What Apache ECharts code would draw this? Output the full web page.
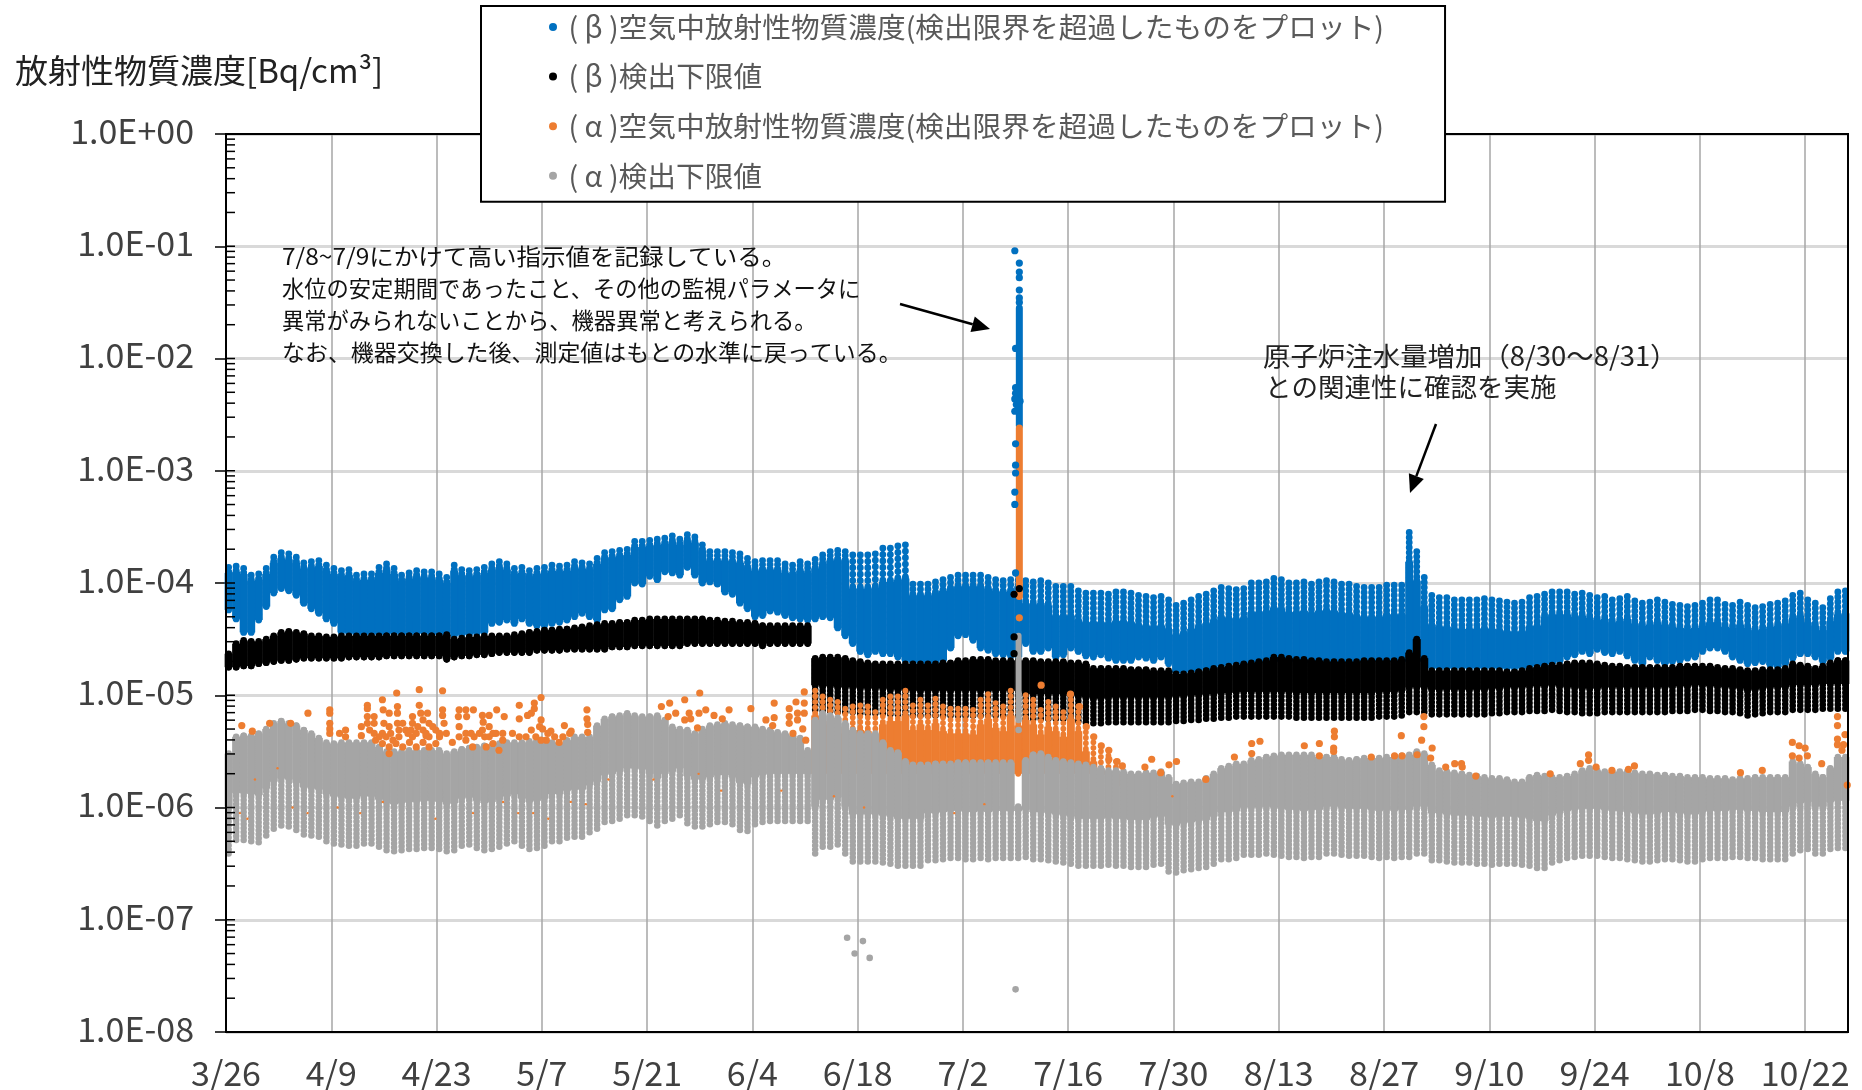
<!DOCTYPE html>
<html><head><meta charset="utf-8">
<style>html,body{margin:0;padding:0;background:#fff}#c{width:1862px;height:1090px}</style>
<script src="https://cdn.jsdelivr.net/npm/echarts@6/dist/echarts.min.js"></script>
</head><body><div id="c"></div>
<script>
// Values are log10(Bq/cm3); one range per day, starting at 3/26.
const xTickLabels=['3/26','4/9','4/23','5/7','5/21','6/4','6/18','7/2','7/16','7/30','8/13','8/27','9/10','9/24','10/8','10/22'];
const legendNames=[' ( β )空気中放射性物質濃度(検出限界を超過したものをプロット)',' ( β )検出下限値',' ( α )空気中放射性物質濃度(検出限界を超過したものをプロット)',' ( α )検出下限値'];

const blueHigh=[
-3.86,-3.85,-3.87,-3.93,-3.92,-3.87,-3.77,-3.73,-3.74,-3.77,
-3.82,-3.81,-3.80,-3.84,-3.87,-3.89,-3.88,-3.93,-3.92,-3.92,
-3.86,-3.83,-3.87,-3.93,-3.91,-3.89,-3.90,-3.90,-3.92,-3.95,
-3.84,-3.88,-3.89,-3.88,-3.86,-3.83,-3.81,-3.83,-3.87,-3.86,
-3.89,-3.87,-3.86,-3.84,-3.85,-3.84,-3.81,-3.82,-3.83,-3.78,
-3.73,-3.72,-3.71,-3.70,-3.63,-3.63,-3.62,-3.61,-3.60,-3.58,
-3.61,-3.57,-3.59,-3.66,-3.72,-3.72,-3.72,-3.73,-3.74,-3.78,
-3.81,-3.80,-3.80,-3.80,-3.83,-3.84,-3.81,-3.83,-3.79,-3.75,
-3.72,-3.71,-3.72,-3.75,-3.75,-3.75,-3.74,-3.69,-3.69,-3.67,
-3.66,-4.01,-4.01,-4.01,-3.99,-3.97,-3.95,-3.93,-3.93,-3.93,
-3.93,-3.95,-3.97,-3.98,-3.97,-3.93,-3.98,-3.99,-3.98,-4.00,
-4.03,-4.03,-4.03,-4.07,-4.09,-4.09,-4.09,-4.10,-4.08,-4.08,
-4.09,-4.11,-4.12,-4.13,-4.12,-4.15,-4.20,-4.18,-4.15,-4.12,
-4.10,-4.07,-4.04,-4.05,-4.06,-4.05,-4.00,-4.00,-3.99,-3.96,
-3.97,-4.00,-4.00,-3.99,-4.01,-3.99,-3.98,-3.99,-4.01,-4.01,
-4.03,-4.04,-4.04,-4.04,-4.02,-4.02,-4.02,-3.55,-3.72,-3.95,
-4.11,-4.13,-4.13,-4.15,-4.15,-4.15,-4.15,-4.14,-4.15,-4.16,
-4.17,-4.18,-4.17,-4.13,-4.12,-4.10,-4.08,-4.08,-4.08,-4.10,
-4.09,-4.11,-4.13,-4.12,-4.15,-4.14,-4.12,-4.16,-4.18,-4.17,
-4.15,-4.17,-4.19,-4.20,-4.21,-4.20,-4.18,-4.15,-4.15,-4.19,
-4.20,-4.17,-4.20,-4.22,-4.21,-4.19,-4.18,-4.16,-4.11,-4.09,
-4.15,-4.18,-4.22,-4.14,-4.08,-4.07];
const blueLow=[
-4.24,-4.32,-4.44,-4.44,-4.33,-4.21,-4.09,-4.05,-4.07,-4.11,
-4.18,-4.23,-4.27,-4.32,-4.36,-4.44,-4.45,-4.46,-4.46,-4.45,
-4.46,-4.46,-4.45,-4.46,-4.46,-4.45,-4.45,-4.46,-4.46,-4.45,
-4.47,-4.46,-4.46,-4.45,-4.44,-4.36,-4.35,-4.33,-4.36,-4.32,
-4.36,-4.38,-4.38,-4.36,-4.35,-4.33,-4.30,-4.27,-4.30,-4.33,
-4.24,-4.23,-4.15,-4.12,-4.00,-4.01,-3.94,-3.97,-3.90,-3.91,
-3.93,-3.86,-3.93,-4.00,-3.99,-4.01,-4.08,-4.10,-4.18,-4.23,
-4.30,-4.29,-4.25,-4.26,-4.29,-4.31,-4.32,-4.33,-4.32,-4.30,
-4.31,-4.40,-4.47,-4.54,-4.61,-4.64,-4.61,-4.63,-4.63,-4.66,
-4.69,-4.71,-4.72,-4.73,-4.73,-4.69,-4.58,-4.47,-4.46,-4.51,
-4.58,-4.60,-4.63,-4.64,-4.65,-4.66,-4.54,-4.61,-4.61,-4.58,
-4.66,-4.64,-4.58,-4.61,-4.65,-4.66,-4.64,-4.67,-4.69,-4.69,
-4.69,-4.66,-4.67,-4.69,-4.66,-4.72,-4.80,-4.80,-4.79,-4.78,
-4.77,-4.76,-4.74,-4.73,-4.72,-4.72,-4.71,-4.71,-4.70,-4.70,
-4.70,-4.70,-4.70,-4.71,-4.71,-4.71,-4.71,-4.71,-4.71,-4.71,
-4.71,-4.70,-4.70,-4.70,-4.70,-4.70,-4.70,-4.70,-4.70,-4.70,
-4.76,-4.76,-4.76,-4.76,-4.76,-4.76,-4.76,-4.76,-4.76,-4.76,
-4.76,-4.76,-4.76,-4.75,-4.74,-4.73,-4.72,-4.70,-4.66,-4.64,
-4.61,-4.63,-4.59,-4.62,-4.63,-4.61,-4.65,-4.69,-4.72,-4.66,
-4.69,-4.72,-4.70,-4.69,-4.67,-4.66,-4.61,-4.58,-4.58,-4.61,
-4.66,-4.69,-4.72,-4.71,-4.70,-4.73,-4.75,-4.72,-4.67,-4.63,
-4.63,-4.66,-4.70,-4.67,-4.61,-4.61];

const blackHigh=[
-4.63,-4.54,-4.51,-4.52,-4.52,-4.50,-4.47,-4.44,-4.43,-4.44,
-4.45,-4.47,-4.47,-4.48,-4.48,-4.47,-4.47,-4.47,-4.47,-4.47,
-4.47,-4.47,-4.47,-4.47,-4.47,-4.47,-4.47,-4.47,-4.47,-4.46,
-4.50,-4.49,-4.48,-4.48,-4.47,-4.47,-4.47,-4.47,-4.46,-4.45,
-4.44,-4.43,-4.42,-4.42,-4.41,-4.41,-4.40,-4.39,-4.38,-4.37,
-4.36,-4.36,-4.35,-4.35,-4.33,-4.33,-4.32,-4.32,-4.32,-4.32,
-4.32,-4.32,-4.32,-4.32,-4.33,-4.33,-4.34,-4.34,-4.35,-4.35,
-4.36,-4.38,-4.38,-4.38,-4.38,-4.38,-4.38,-4.38,-4.67,-4.66,
-4.66,-4.66,-4.67,-4.69,-4.70,-4.71,-4.72,-4.72,-4.72,-4.72,
-4.72,-4.72,-4.72,-4.72,-4.72,-4.71,-4.71,-4.69,-4.69,-4.68,
-4.68,-4.68,-4.69,-4.69,-4.69,-4.69,-4.69,-4.69,-4.70,-4.70,
-4.70,-4.70,-4.71,-4.71,-4.72,-4.76,-4.76,-4.76,-4.76,-4.76,
-4.77,-4.77,-4.77,-4.78,-4.78,-4.78,-4.81,-4.81,-4.80,-4.79,
-4.78,-4.76,-4.75,-4.74,-4.73,-4.72,-4.71,-4.70,-4.69,-4.66,
-4.66,-4.67,-4.68,-4.68,-4.69,-4.69,-4.70,-4.70,-4.70,-4.70,
-4.70,-4.69,-4.69,-4.69,-4.69,-4.69,-4.68,-4.62,-4.50,-4.67,
-4.78,-4.78,-4.78,-4.78,-4.78,-4.78,-4.78,-4.78,-4.78,-4.78,
-4.79,-4.79,-4.78,-4.76,-4.75,-4.74,-4.73,-4.73,-4.72,-4.71,
-4.71,-4.71,-4.72,-4.73,-4.74,-4.74,-4.75,-4.75,-4.75,-4.75,
-4.75,-4.75,-4.75,-4.74,-4.74,-4.74,-4.74,-4.74,-4.75,-4.76,
-4.76,-4.77,-4.78,-4.78,-4.77,-4.77,-4.77,-4.76,-4.72,-4.73,
-4.74,-4.76,-4.74,-4.71,-4.69,-4.69];
const blackLow=[
-4.75,-4.75,-4.74,-4.74,-4.72,-4.71,-4.70,-4.69,-4.69,-4.68,
-4.67,-4.67,-4.67,-4.67,-4.67,-4.67,-4.66,-4.66,-4.66,-4.66,
-4.66,-4.65,-4.65,-4.65,-4.65,-4.65,-4.65,-4.65,-4.65,-4.68,
-4.66,-4.65,-4.65,-4.64,-4.64,-4.63,-4.62,-4.62,-4.62,-4.62,
-4.62,-4.60,-4.60,-4.60,-4.60,-4.59,-4.59,-4.59,-4.59,-4.59,
-4.59,-4.57,-4.57,-4.57,-4.56,-4.56,-4.56,-4.56,-4.56,-4.56,
-4.56,-4.54,-4.54,-4.54,-4.54,-4.54,-4.54,-4.54,-4.54,-4.54,
-4.54,-4.56,-4.54,-4.54,-4.54,-4.54,-4.54,-4.54,-5.13,-5.14,
-5.14,-5.15,-5.15,-5.15,-5.16,-5.16,-5.16,-5.16,-5.17,-5.17,
-5.18,-5.18,-5.18,-5.18,-5.18,-5.18,-5.18,-5.18,-5.18,-5.18,
-5.18,-5.18,-5.18,-5.18,-5.18,-5.18,-5.21,-5.21,-5.21,-5.21,
-5.21,-5.21,-5.22,-5.23,-5.24,-5.25,-5.25,-5.24,-5.24,-5.24,
-5.24,-5.24,-5.24,-5.24,-5.24,-5.24,-5.23,-5.23,-5.22,-5.22,
-5.21,-5.21,-5.20,-5.20,-5.19,-5.19,-5.19,-5.19,-5.19,-5.19,
-5.19,-5.19,-5.20,-5.20,-5.20,-5.20,-5.20,-5.20,-5.20,-5.20,
-5.20,-5.20,-5.20,-5.19,-5.19,-5.19,-5.18,-5.15,-5.15,-5.15,
-5.17,-5.17,-5.17,-5.17,-5.17,-5.17,-5.17,-5.17,-5.16,-5.16,
-5.15,-5.15,-5.15,-5.14,-5.14,-5.14,-5.13,-5.14,-5.15,-5.15,
-5.16,-5.16,-5.16,-5.15,-5.15,-5.15,-5.15,-5.15,-5.15,-5.15,
-5.15,-5.15,-5.14,-5.14,-5.14,-5.13,-5.13,-5.14,-5.14,-5.15,
-5.15,-5.16,-5.18,-5.17,-5.16,-5.15,-5.15,-5.15,-5.13,-5.13,
-5.13,-5.13,-5.12,-5.12,-5.12,-5.12];

const greyHigh=[
-5.52,-5.37,-5.36,-5.36,-5.34,-5.30,-5.25,-5.23,-5.25,-5.27,
-5.31,-5.34,-5.38,-5.42,-5.43,-5.42,-5.42,-5.42,-5.42,-5.42,
-5.46,-5.50,-5.50,-5.50,-5.49,-5.49,-5.49,-5.49,-5.49,-5.52,
-5.50,-5.48,-5.47,-5.46,-5.45,-5.45,-5.43,-5.42,-5.42,-5.42,
-5.41,-5.40,-5.40,-5.42,-5.43,-5.40,-5.37,-5.37,-5.37,-5.27,
-5.21,-5.19,-5.18,-5.16,-5.18,-5.19,-5.19,-5.18,-5.22,-5.28,
-5.30,-5.31,-5.34,-5.30,-5.27,-5.26,-5.25,-5.26,-5.27,-5.28,
-5.28,-5.30,-5.31,-5.33,-5.34,-5.36,-5.38,-5.49,-5.22,-5.16,
-5.18,-5.20,-5.25,-5.31,-5.34,-5.34,-5.34,-5.42,-5.49,-5.51,
-5.59,-5.62,-5.62,-5.62,-5.61,-5.61,-5.61,-5.60,-5.60,-5.60,
-5.60,-5.60,-5.60,-5.60,-5.60,-5.99,-5.58,-5.53,-5.52,-5.55,
-5.58,-5.59,-5.60,-5.61,-5.62,-5.64,-5.65,-5.67,-5.67,-5.68,
-5.70,-5.70,-5.69,-5.69,-5.68,-5.73,-5.79,-5.78,-5.77,-5.77,
-5.74,-5.70,-5.65,-5.63,-5.61,-5.61,-5.58,-5.57,-5.55,-5.54,
-5.53,-5.53,-5.53,-5.53,-5.53,-5.55,-5.55,-5.55,-5.57,-5.58,
-5.57,-5.56,-5.56,-5.56,-5.55,-5.55,-5.54,-5.53,-5.50,-5.52,
-5.62,-5.67,-5.68,-5.69,-5.70,-5.71,-5.72,-5.73,-5.74,-5.74,
-5.75,-5.77,-5.77,-5.73,-5.71,-5.72,-5.73,-5.73,-5.72,-5.70,
-5.67,-5.65,-5.67,-5.68,-5.68,-5.68,-5.68,-5.69,-5.70,-5.70,
-5.71,-5.71,-5.72,-5.72,-5.73,-5.73,-5.73,-5.74,-5.74,-5.74,
-5.75,-5.74,-5.74,-5.73,-5.73,-5.73,-5.73,-5.73,-5.59,-5.61,
-5.64,-5.70,-5.73,-5.65,-5.55,-5.55];
const greyLow=[
-6.41,-6.29,-6.29,-6.30,-6.31,-6.25,-6.19,-6.16,-6.17,-6.20,
-6.24,-6.25,-6.26,-6.30,-6.32,-6.33,-6.34,-6.34,-6.32,-6.32,
-6.35,-6.38,-6.39,-6.38,-6.37,-6.37,-6.36,-6.36,-6.37,-6.39,
-6.38,-6.34,-6.33,-6.36,-6.38,-6.37,-6.35,-6.32,-6.30,-6.34,
-6.37,-6.36,-6.34,-6.30,-6.30,-6.27,-6.26,-6.26,-6.22,-6.19,
-6.13,-6.12,-6.10,-6.07,-6.07,-6.08,-6.12,-6.16,-6.12,-6.10,
-6.07,-6.14,-6.17,-6.17,-6.15,-6.13,-6.13,-6.15,-6.20,-6.21,
-6.15,-6.13,-6.12,-6.12,-6.12,-6.12,-6.12,-6.12,-6.41,-6.35,
-6.35,-6.33,-6.41,-6.48,-6.48,-6.48,-6.48,-6.49,-6.50,-6.52,
-6.52,-6.52,-6.52,-6.47,-6.47,-6.46,-6.45,-6.45,-6.46,-6.46,
-6.45,-6.46,-6.45,-6.45,-6.45,-6.45,-6.44,-6.46,-6.46,-6.47,
-6.48,-6.49,-6.50,-6.52,-6.52,-6.52,-6.52,-6.51,-6.52,-6.52,
-6.53,-6.53,-6.53,-6.51,-6.50,-6.57,-6.58,-6.56,-6.55,-6.54,
-6.53,-6.50,-6.46,-6.46,-6.45,-6.42,-6.42,-6.42,-6.41,-6.42,
-6.43,-6.44,-6.44,-6.45,-6.44,-6.44,-6.41,-6.41,-6.42,-6.43,
-6.43,-6.43,-6.44,-6.45,-6.44,-6.45,-6.44,-6.44,-6.41,-6.41,
-6.47,-6.47,-6.48,-6.49,-6.49,-6.49,-6.50,-6.50,-6.51,-6.50,
-6.50,-6.50,-6.51,-6.52,-6.54,-6.54,-6.49,-6.47,-6.45,-6.44,
-6.43,-6.43,-6.43,-6.44,-6.45,-6.45,-6.46,-6.47,-6.48,-6.48,
-6.47,-6.46,-6.46,-6.47,-6.48,-6.48,-6.46,-6.45,-6.45,-6.45,
-6.44,-6.44,-6.45,-6.45,-6.46,-6.46,-6.46,-6.46,-6.41,-6.38,
-6.37,-6.41,-6.41,-6.37,-6.36,-6.36];

// orange dense stretch: day 78 onward
const orangeDenseHigh=[
-4.96,-5.01,-5.04,-5.06,-5.12,-5.10,-5.09,-5.10,-5.15,-5.04,
-5.01,-5.01,-4.96,-5.09,-5.04,-5.09,-5.03,-5.10,-5.12,-5.12,
-5.12,-5.13,-5.04,-4.99,-5.07,-5.10,-4.96,-5.05,-5.00,-5.04,
-5.13,-5.06,-5.10,-5.15,-4.99,-5.10,-5.28,-5.37,-5.45,-5.49,-5.59];
const orangeDots=[
[2.1,-5.27],[3.5,-5.32],[5.8,-5.25],[8.6,-5.25],[10.9,-5.16],[13.8,-5.13],[13.8,-5.16],[13.8,-5.25],[13.8,-5.30],[13.8,-5.34],[15.1,-5.34],[15.9,-5.31],[15.9,-5.37],[18,-5.28],[18,-5.36],[18.8,-5.09],[18.8,-5.12],[18.8,-5.19],[18.8,-5.25],[19.1,-5.31],[19.7,-5.19],[19.7,-5.25],[19.7,-5.34],[20.8,-5.04],[20.9,-5.13],[21.7,-5.16],[22.7,-4.98],[22.8,-5.10],[22.8,-5.16],[22.8,-5.25],[21.7,-5.28],[20.8,-5.34],[22.2,-5.40],[23.9,-5.31],[24.8,-5.19],[24.8,-5.25],[25.7,-4.95],[25.7,-5.09],[25.9,-5.16],[26.2,-5.22],[26.8,-5.16],[27,-5.25],[26.2,-5.31],[27,-5.37],[27.9,-5.31],[28.8,-4.96],[28.8,-5.13],[28.8,-5.18],[29,-5.25],[28.4,-5.37],[30.1,-5.42],[31,-5.13],[30.9,-5.19],[31,-5.28],[31.9,-5.13],[32,-5.19],[32.9,-5.13],[31.9,-5.34],[33,-5.37],[34.1,-5.18],[34.2,-5.24],[35,-5.18],[35,-5.28],[34.4,-5.37],[36,-5.13],[37,-5.19],[35.9,-5.34],[36.8,-5.40],[38.1,-5.34],[39,-5.09],[39,-5.21],[39,-5.37],[40.1,-5.18],[40.6,-5.16],[41,-5.07],[41.9,-5.02],[41,-5.12],[41.9,-5.22],[42.1,-5.30],[41.2,-5.37],[42.6,-5.40],[43.2,-5.32],[45,-5.27],[45.9,-5.32],[44.3,-5.42],[48,-5.13],[48,-5.21],[48.1,-5.26],[48.1,-5.33],
[20.8,-5.43],[21.7,-5.46],[21.7,-5.52],[22.6,-5.43],[23.5,-5.46],[24.4,-5.42],[25.3,-5.46],[26.2,-5.42],[27,-5.46],[27.9,-5.43],[21.3,-5.37],[23,-5.37],[24.8,-5.37],[26.6,-5.36],[32.8,-5.46],[34.6,-5.46],[35.5,-5.43],[36.3,-5.49],
[19.9,-5.40],[20.4,-5.37],[21,-5.25],[21.9,-5.34],[23,-5.31],[23.5,-5.25],[24.2,-5.34],[24.6,-5.31],[25.3,-5.34],[25.5,-5.28],[26.6,-5.34],[27.5,-5.28],[28.4,-5.34],[29.3,-5.34],[31,-5.37],[31.9,-5.40],[32.6,-5.34],[33.7,-5.34],[34.1,-5.31],[35,-5.37],[35.5,-5.34],[36.8,-5.34],[39.9,-5.37],[40.6,-5.31],[41.7,-5.28],[41.9,-5.40],[42.8,-5.34],[43.7,-5.37],[44.8,-5.37],[45.7,-5.34],
[57.9,-5.10],[59,-5.07],[61,-5.04],[63,-4.98],[58.8,-5.19],[59.8,-5.16],[61.6,-5.16],[61,-5.22],[61.8,-5.21],[62.7,-5.29],[63.8,-5.13],[62.9,-5.16],[64.9,-5.18],[66,-5.21],[66.9,-5.13],[69.8,-5.12],[72.9,-5.07],[71.8,-5.22],[72.9,-5.20],[72.7,-5.27],[74.9,-5.12],[74.9,-5.19],[74.9,-5.25],[75.8,-5.06],[76,-5.16],[76,-5.22],[76.9,-4.97],[76.9,-5.07],[76.9,-5.16],[76.7,-5.30],[75.4,-5.34],[77.1,-5.40],
[108.4,-4.91],[112.3,-4.99],[113.5,-5.10],[114.4,-5.28],[115.4,-5.37],[116.4,-5.45],[117.4,-5.49],[117.4,-5.57],[118.5,-5.59],[119.2,-5.63],[122.2,-5.64],[123.1,-5.57],[124.3,-5.69],[125.4,-5.62],[126.4,-5.59],[130.3,-5.75],[134.1,-5.55],[136.4,-5.43],[136.4,-5.52],[137.5,-5.41],[143.4,-5.45],[145.4,-5.43],[145.4,-5.54],[147.3,-5.47],[147.3,-5.50],[147.4,-5.32],[147.4,-5.37],[152.3,-5.55],[155.4,-5.54],[156.3,-5.36],[156.4,-5.54],[158.4,-5.53],[159.3,-5.19],[159.3,-5.28],[159,-5.40],
[160.4,-5.47],[160.2,-5.56],[162.2,-5.64],[163.4,-5.61],[164.3,-5.61],[164.4,-5.64],[166.2,-5.72],[176.1,-5.70],[180.1,-5.61],[181.2,-5.53],[181.2,-5.58],[182.2,-5.64],[184.3,-5.67],[186.5,-5.66],[187.3,-5.63],[201.4,-5.69],[204.3,-5.67],[208.3,-5.42],[208.3,-5.54],[209.2,-5.45],[209.2,-5.56],[210,-5.47],[210.3,-5.54],[212.2,-5.61],[214.3,-5.19],[214.3,-5.27],[215.3,-5.35],[214.3,-5.39],[214.3,-5.44],[215.1,-5.44],[214.9,-5.49],[215.6,-5.80]];
// small orange points that only show through the gaps of the grey band
const orangeHiddenDots=[[1.85,-6.05],[2.85,-6.10],[3.85,-5.75],[6.85,-5.65],[8.85,-6.00],[10.85,-6.05],[14.85,-6.00],[17.85,-6.05],[20.85,-5.95],[27.85,-6.10],[32.85,-6.05],[36.85,-5.95],[38.85,-6.05],[40.85,-6.05],[42.85,-6.10],[45.85,-5.95],[47.85,-5.97],[50.85,-5.75],[56.85,-5.75],[62.85,-5.70],[65.85,-5.85],[73.85,-5.85],[80.85,-5.90],[84.85,-6.00],[96.85,-6.05],[100.85,-5.97],[125.85,-5.90]];

// the 7/8-7/9 spike
const blueSpikeRange=[105.5,-2.60,-1.55];
const blueSpikeDots=[[104.9,-1.04],[105.5,-1.15],[105.5,-1.23],[105.5,-1.28],[105.5,-1.39],[105.5,-1.46],[105.5,-1.50],[105,-1.91],[105,-2.26],[105,-2.31],[104.9,-2.36],[104.9,-2.47],[105.1,-2.41],[105.6,-2.38],[105,-2.76],[105,-2.95],[105,-3.02],[104.9,-3.19],[104.9,-3.30],[105,-3.91]];
const blackSpikeDots=[[104.8,-4.10],[104.8,-4.48],[104.8,-4.63],[105.5,-4.05]];
const orangeSpikeRange=[105.5,-4.12,-2.62];
const orangeSpikeDots=[[105.5,-4.31]];
const greySpikeRange=[105.4,-5.20,-4.47];
const greyDots=[[105.4,-5.22],[105.4,-5.31],[82.6,-7.16],[84.7,-7.19],[83.6,-7.30],[85.6,-7.34],[105,-7.62]];
// exponent of each labelled decade
const yDecades=[0,-1,-2,-3,-4,-5,-6,-7,-8];

const FONT='"Noto Sans CJK JP"';
const TXT='#404040';
const pow=v=>Math.pow(10,v);

// [firstDay, length in decades of the separated part of each stripe, bead spacing px]
const blueTeeth=[[0,0.05,4],[64,0.08,4],[83,0.30,6.4],[91,0.10,5],[106,0.20,5],[110,0.26,5],[175,0.20,5]];
const blackTeeth=[[0,0,4],[78,0.22,4]];
const orangeTeeth=[[0,0.22,5.5]];
const greyTeeth=[[0,0.42,4]];

function seg(list,d){let r=list[0];for(const s of list){if(d>=s[0])r=s;}return r;}
// row: [day, low, high, limit of wide body, bead spacing]
function rows(lows,highs,teeth,downward,firstDay){
  return highs.map((h,i)=>{
    const d=i+(firstDay||0);const s=seg(teeth,d);
    const lo=Array.isArray(lows)?lows[i]:lows;
    return [d+0.35,pow(lo),pow(h),downward?pow(lo+s[1]):pow(h-s[1]),s[2]];
  });
}
function bandSeries(name,color,data,opt){
  return {name,type:'custom',coordinateSystem:'cartesian2d',animation:false,silent:true,clip:false,
    itemStyle:{color},encode:{x:0,y:[1,2]},data,
    renderItem(params,api){
      const x=api.value(0),lo=api.coord([x,api.value(1)]),hi=api.coord([x,api.value(2)]),lim=api.coord([x,api.value(3)]);
      const tip=opt.downward?lo:hi, far=opt.downward?hi:lo;
      return {type:'group',children:[
        {type:'line',shape:{x1:far[0],y1:far[1],x2:lim[0],y2:lim[1]},
          style:{stroke:color,lineWidth:opt.wide,lineCap:'butt',fill:null}},
        {type:'line',shape:{x1:tip[0],y1:tip[1],x2:far[0],y2:far[1]},
          style:{stroke:color,lineWidth:opt.dot,lineCap:'round',lineDash:[0.01,api.value(4)],fill:null}},
        {type:'line',shape:{x1:far[0],y1:far[1],x2:lim[0],y2:lim[1]},
          style:{stroke:color,lineWidth:opt.dot,lineCap:'round',fill:null}}
      ]};
    }};
}
function dotSeries(name,color,pts,size){
  return {name,type:'scatter',animation:false,silent:true,clip:false,symbol:'circle',symbolSize:size||7.2,
    itemStyle:{color,opacity:1},data:pts.map(p=>[p[0],pow(p[1])]),large:false};
}
function spikeSeries(name,color,r,w){
  return {name,type:'custom',animation:false,silent:true,itemStyle:{color},encode:{x:0,y:[1,2]},
    data:[[r[0],pow(r[1]),pow(r[2])]],
    renderItem(p,api){const a=api.coord([api.value(0),api.value(1)]),b=api.coord([api.value(0),api.value(2)]);
      return {type:'line',shape:{x1:a[0],y1:a[1],x2:b[0],y2:b[1]},style:{stroke:color,lineWidth:w,lineCap:'round',fill:null}};}};
}
const BLUE='#0070c0',BLACK='#000000',ORANGE='#ed7d31',GREY='#a5a5a5';

// minor and inner ticks on the log axis
const tickRows=[];
yDecades.forEach(e=>{ if(e>-8){ [1,2,3,4,5,6,7,8,9].forEach(m=>tickRows.push([0,m*pow(e-1)])); } });
tickRows.push([0,1]);

const series=[
  bandSeries(legendNames[0],BLUE,rows(blueLow,blueHigh,blueTeeth,false),{wide:8,dot:6.8}),
  spikeSeries(legendNames[0],BLUE,blueSpikeRange,7),
  dotSeries(legendNames[0],BLUE,blueSpikeDots),
  bandSeries(legendNames[1],BLACK,rows(blackLow,blackHigh,blackTeeth,true),{wide:8,dot:6.6,downward:true}),
  dotSeries(legendNames[1],BLACK,blackSpikeDots),
  bandSeries(legendNames[2],ORANGE,rows(-5.7,orangeDenseHigh,orangeTeeth,false,78),{wide:7.9,dot:5.8}),
  spikeSeries(legendNames[2],ORANGE,orangeSpikeRange,7),
  dotSeries(legendNames[2],ORANGE,orangeDots.concat(orangeSpikeDots)),
  dotSeries(legendNames[2],ORANGE,orangeHiddenDots,2.4),
  bandSeries(legendNames[3],GREY,rows(greyLow,greyHigh,greyTeeth,true),{wide:8,dot:6.5,downward:true}),
  spikeSeries(legendNames[3],GREY,greySpikeRange,6),
  dotSeries(legendNames[3],GREY,greyDots,6.6),
  {name:'ticks',type:'custom',animation:false,silent:true,clip:false,data:tickRows,encode:{x:0,y:1},
    renderItem(p,api){const c=api.coord([0,api.value(1)]);
      return {type:'line',shape:{x1:c[0],y1:c[1],x2:c[0]+9,y2:c[1]},style:{stroke:'#000',lineWidth:1.5,fill:null}};}}
];

function arrow(x1,y1,x2,y2){
  const a=Math.atan2(y2-y1,x2-x1),L=18,W=8;
  const bx=x2-L*Math.cos(a),by=y2-L*Math.sin(a),nx=-Math.sin(a)*W,ny=Math.cos(a)*W;
  return [
    {type:'line',z:20,shape:{x1,y1,x2:bx,y2:by},style:{stroke:'#000',lineWidth:2.5}},
    {type:'polygon',z:20,shape:{points:[[x2,y2],[bx+nx,by+ny],[bx-nx,by-ny]]},style:{fill:'#000'}}
  ];
}
function note(text,x,y,size,scaleX,color){
  return {type:'text',x,y,scaleX:scaleX||1,z:20,style:{text,font:size+'px '+FONT,fill:color||'#111',textVerticalAlign:'middle'}};
}
const option={
  animation:false,backgroundColor:'#fff',
  textStyle:{fontFamily:FONT},
  grid:{left:226,right:14,top:134,bottom:58,show:true,borderColor:'#000',borderWidth:2,backgroundColor:'transparent',containLabel:false,z:5},
  xAxis:{type:'value',min:0,max:215.7,interval:14,
    axisLine:{show:true,lineStyle:{color:'#000',width:2}},axisTick:{show:false},
    splitLine:{show:true,lineStyle:{color:'#a6a6a6',width:1.5}},
    axisLabel:{margin:24,fontFamily:FONT,fontSize:34,color:TXT,showMaxLabel:false,
      formatter:v=>{const i=v/14;return Number.isInteger(i)&&xTickLabels[i]?xTickLabels[i]:'';}}},
  yAxis:{type:'log',logBase:10,min:1e-8,max:1,
    axisLine:{show:true,lineStyle:{color:'#000',width:2}},
    axisTick:{show:true,length:11,lineStyle:{color:'#000',width:1.5}},minorTick:{show:false},
    splitLine:{show:true,lineStyle:{color:'#d9d9d9',width:3}},minorSplitLine:{show:false},
    axisLabel:{margin:32,fontFamily:FONT,fontSize:34,color:TXT,verticalAlign:'bottom',lineHeight:6,
      formatter:v=>{const e=Math.round(Math.log10(v));const a=Math.abs(e);return '1.0E'+(e<0?'-':'+')+(a<10?'0':'')+a;}}},
  legend:{show:true,orient:'vertical',left:481,top:6,selectedMode:false,z:10,
    backgroundColor:'#fff',borderColor:'#000',borderWidth:2,
    padding:[6,61,11,68],itemGap:19.6,itemWidth:8,itemHeight:8,icon:'circle',
    textStyle:{fontFamily:FONT,fontSize:28.7,color:'#595959',lineHeight:30},
    data:legendNames.map((n,i)=>({name:n,itemStyle:{color:[BLUE,BLACK,ORANGE,GREY][i]}}))},
  graphic:[
    note('放射性物質濃度[Bq/cm³]',15,70,33,1,'#222'),
    note('7/8~7/9にかけて高い指示値を記録している。',282,256,22.5,1.09),
    note('水位の安定期間であったこと、その他の監視パラメータに',282,288,22.5,0.99),
    note('異常がみられないことから、機器異常と考えられる。',282,320,22.5,0.99),
    note('なお、機器交換した後、測定値はもとの水準に戻っている。',282,352,22.5,1.02),
    note('原子炉注水量増加（8/30～8/31）',1263,356,26.5,1.035,'#222'),
    note('との関連性に確認を実施',1265,387,26.5,1,'#222'),
    ...arrow(900,304,990,329),
    ...arrow(1436,424,1410,493)
  ],
  series
};
const chart=echarts.init(document.getElementById('c'),null,{renderer:'canvas'});
chart.setOption(option);
</script></body></html>
